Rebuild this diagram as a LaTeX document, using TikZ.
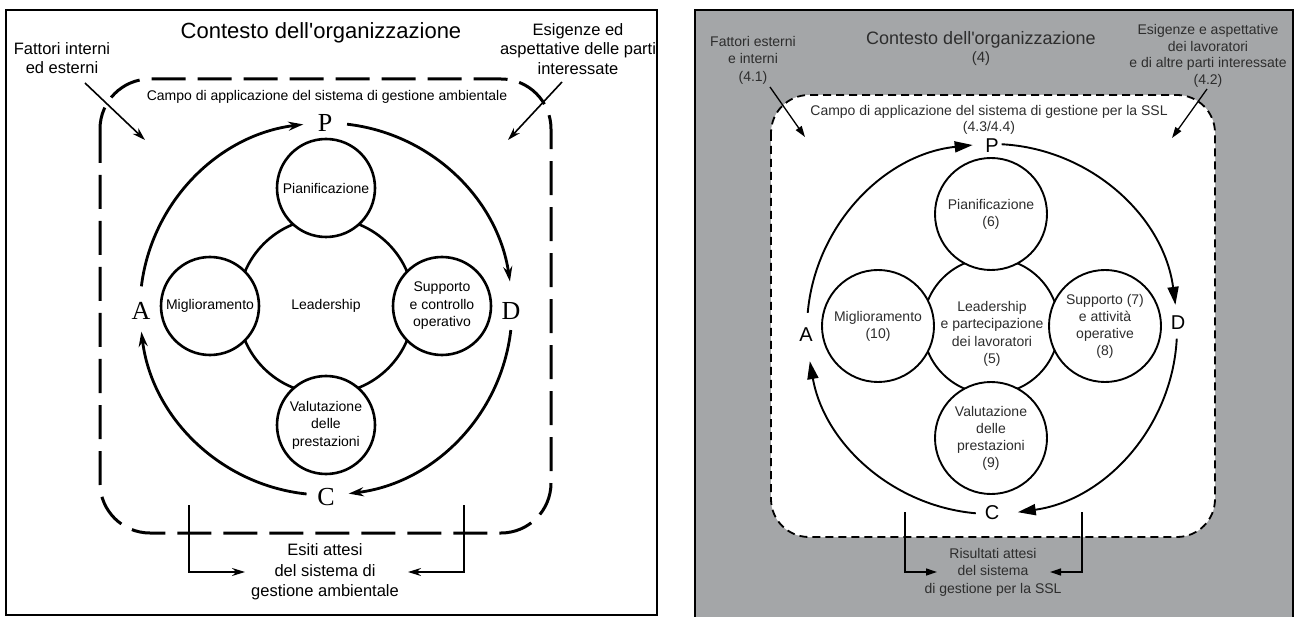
\documentclass[tikz,border=0pt]{standalone}
\usepackage{fontspec}
\setmainfont{Liberation Sans}
\newfontfamily\serifL{Liberation Serif}
\usetikzlibrary{arrows.meta}
\definecolor{panelgray}{RGB}{164,166,168}
\definecolor{txtgray}{RGB}{45,45,45}
\newcommand\fsz[2]{\fontsize{#1}{#2}\selectfont}
\begin{document}
\begin{tikzpicture}[x=1pt,y=-1pt,
  txt/.style={align=center,inner sep=0pt},
  cycL/.style={line width=2.8,-{Stealth[length=15,width=9]}},
  thinL/.style={line width=1.6,-{Stealth[length=13,width=8]}},
  ballL/.style={circle,draw,line width=2.6,fill=white,minimum size=98,inner sep=0pt,align=center,font=\fsz{14}{17.5}},
  letL/.style={inner sep=0pt,font=\serifL\fsz{26}{30}},
  cycR/.style={line width=1.9,-{Triangle[length=18,width=11]}},
  thinR/.style={line width=1.3,-{Triangle[length=11,width=7]}},
  ballR/.style={circle,draw,line width=1.9,fill=white,minimum size=112,inner sep=0pt,align=center,text=txtgray,font=\fsz{14}{17}},
  letR/.style={inner sep=0pt,font=\fsz{20}{24}},
  txtR/.style={align=center,inner sep=0pt,text=txtgray}
]
\useasboundingbox (0,0) rectangle (1298,617);
\fill[white] (0,0) rectangle (1298,617);

% ================= LEFT PANEL =================
\draw[line width=1.6] (6,10) rectangle (657,615);
\node[txt,font=\fsz{22}{26}] (t1) at (321,33) {Contesto dell\textquotesingle organizzazione};
\node[txt,font=\fsz{16.5}{19.5}] (f1) at (62,58) {Fattori interni\\ed esterni};
\node[txt,font=\fsz{16.5}{19.5}] (e1) at (578,49) {Esigenze ed\\aspettative delle parti\\interessate};
\draw[line width=3,dash pattern=on 34pt off 12pt,rounded corners=50] (100,79) rectangle (551,533);
\node[txt,font=\fsz{14}{17}] (c1) at (327,97) {Campo di applicazione del sistema di gestione ambientale};

\coordinate (f1s) at (85,83);  \coordinate (f1e) at (145,140);
\coordinate (e1s) at (562,82); \coordinate (e1e) at (508,140);
\draw[thinL] (f1s) -- (f1e);
\draw[thinL] (e1s) -- (e1e);

% cycle
\coordinate (o1) at (326,309);
\node[letL] (P1) at (325,123) {P};
\node[letL] (A1) at (141,311) {A};
\node[letL] (D1) at (511,311) {D};
\node[letL] (C1) at (326,497) {C};
\draw[cycL] (o1) ++(187:186) arc[start angle=187,end angle=263,radius=186];
\draw[cycL] (o1) ++(276.5:186) arc[start angle=276.5,end angle=351.5,radius=186];
\draw[cycL] (o1) ++(6.5:186) arc[start angle=6.5,end angle=83,radius=186];
\draw[cycL] (o1) ++(96:186) arc[start angle=96,end angle=173,radius=186];

% ring and circles
\coordinate (r1) at (326,306);
\draw[line width=2.6] (r1) circle[radius=88];
\node[ballL] (pl1) at (326,188) {Pianificazione};
\node[ballL] (mi1) at (210,306) {Miglioramento};
\node[ballL] (su1) at (442,306) {Supporto\\e controllo\\operativo};
\node[ballL] (va1) at (326,425) {Valutazione\\delle\\prestazioni};
\node[txt,font=\fsz{14}{17}] (ld1) at (326,306) {Leadership};

% outcomes
\node[txt,font=\fsz{16.5}{20.5}] (es1) at (325,572) {Esiti attesi\\del sistema di\\gestione ambientale};
\coordinate (bl1) at (189,505); \coordinate (bl1e) at (245,572);
\coordinate (br1) at (464,505); \coordinate (br1e) at (408,572);
\draw[thinL] (bl1) |- (bl1e);
\draw[thinL] (br1) |- (br1e);

% ================= RIGHT PANEL =================
\draw[line width=1.6,fill=panelgray] (695,10) rectangle (1293,650);
\node[txtR,font=\fsz{18}{21}] (t2) at (981,40) {Contesto dell\textquotesingle organizzazione};
\node[txtR,font=\fsz{15}{18}] (t2n) at (981,59) {(4)};
\node[txtR,font=\fsz{14}{17.5}] (f2) at (753,60) {Fattori esterni\\e interni\\(4.1)};
\node[txtR,font=\fsz{14}{16.7}] (e2) at (1208,56) {Esigenze e aspettative\\dei lavoratori\\e di altre parti interessate\\(4.2)};
\draw[line width=1.8,dash pattern=on 8pt off 5pt,fill=white,rounded corners=38] (771,95) rectangle (1215,537);
\node[txtR,font=\fsz{14}{16}] (c2) at (989,120) {Campo di applicazione del sistema di gestione per la SSL\\(4.3/4.4)};

\coordinate (f2s) at (770,87);  \coordinate (f2e) at (805,137);
\coordinate (e2s) at (1207,89); \coordinate (e2e) at (1172,138);
\draw[thinR] (f2s) -- (f2e);
\draw[thinR] (e2s) -- (e2e);

% cycle
\coordinate (o2) at (992,329);
\node[letR] (P2) at (992,146) {P};
\node[letR] (A2) at (806,335) {A};
\node[letR] (D2) at (1178,323) {D};
\node[letR] (C2) at (992,513) {C};
\draw[cycR] (o2) ++(185:185) arc[start angle=185,end angle=264,radius=185];
\draw[cycR] (o2) ++(273:185) arc[start angle=273,end angle=352.5,radius=185];
\draw[cycR] (o2) ++(3:185) arc[start angle=3,end angle=82,radius=185];
\draw[cycR] (o2) ++(95:185) arc[start angle=95,end angle=170,radius=185];

% ring and circles
\coordinate (r2) at (991,326);
\draw[line width=1.9] (r2) circle[radius=68];
\node[ballR] (pl2) at (991,214) {Pianificazione\\(6)};
\node[ballR] (mi2) at (878,326) {Miglioramento\\(10)};
\node[ballR] (su2) at (1105,326) {Supporto (7)\\e attività\\operative\\(8)};
\node[ballR] (va2) at (991,438) {Valutazione\\delle\\prestazioni\\(9)};
\node[txtR,font=\fsz{14}{17.5}] (ld2) at (992,334) {Leadership\\e partecipazione\\dei lavoratori\\(5)};

% outcomes
\node[txtR,font=\fsz{14}{17.5}] (es2) at (993,572) {Risultati attesi\\del sistema\\di gestione per la SSL};
\coordinate (bl2) at (905,512);  \coordinate (bl2e) at (937,572);
\coordinate (br2) at (1082,512); \coordinate (br2e) at (1050,572);
\draw[thinR] (bl2) |- (bl2e);
\draw[thinR] (br2) |- (br2e);
\end{tikzpicture}
\end{document}
